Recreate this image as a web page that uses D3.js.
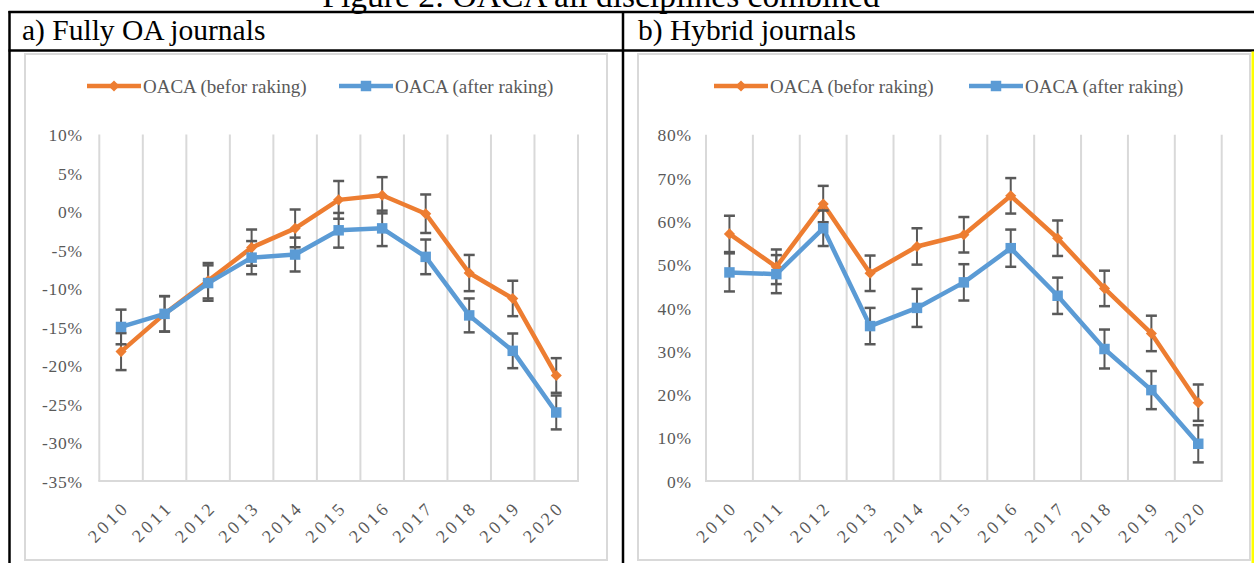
<!DOCTYPE html>
<html><head><meta charset="utf-8">
<script src="https://cdn.jsdelivr.net/npm/d3@7"></script>
<style>
html,body{margin:0;padding:0;background:#fff;}
svg{display:block;}
</style></head>
<body>
<svg id="c" width="1254" height="563"></svg>
<script>
const years = ['2010','2011','2012','2013','2014','2015','2016','2017','2018','2019','2020'];
const seriesNames = ['OACA (befor raking)', 'OACA (after raking)'];
const figureTitle = 'Figure 2: OACA all disciplines combined';
const panelTitles = ['a) Fully OA journals', 'b) Hybrid journals'];

// a) Fully OA journals (percent)
const fullyBefore    = [-18.2, -13.3, -9.0, -4.7, -2.2, 1.5, 2.1, -0.3, -8.0, -11.3, -21.3];
const fullyBeforeErr = [2.4, 2.3, 2.3, 2.35, 2.45, 2.45, 2.35, 2.5, 2.35, 2.3, 2.25];
const fullyAfter     = [-15.0, -13.3, -9.3, -6.0, -5.6, -2.45, -2.2, -5.9, -13.5, -18.1, -26.1];
const fullyAfterErr  = [2.25, 2.3, 2.3, 2.15, 2.2, 2.25, 2.3, 2.25, 2.2, 2.25, 2.2];
const fullyTicks     = [10, 5, 0, -5, -10, -15, -20, -25, -30, -35];

// b) Hybrid journals (percent)
const hybridBefore    = [57.1, 49.5, 64.0, 48.0, 54.2, 56.9, 65.9, 56.1, 44.5, 34.1, 18.1];
const hybridBeforeErr = [4.2, 4.0, 4.2, 4.1, 4.2, 4.1, 4.1, 4.1, 4.1, 4.1, 4.2];
const hybridAfter     = [48.2, 47.8, 58.4, 35.8, 40.0, 45.9, 53.8, 42.8, 30.5, 21.0, 8.6];
const hybridAfterErr  = [4.4, 4.4, 4.1, 4.2, 4.4, 4.2, 4.3, 4.2, 4.5, 4.4, 4.3];
const hybridTicks     = [80, 70, 60, 50, 40, 30, 20, 10, 0];

const ORANGE = '#ED7D31', BLUE = '#5B9BD5', GRID = '#d9d9d9', TXT = '#595959', ERR = '#595959';
const SERIF = '"Liberation Serif", "Times New Roman", serif';

const svg = d3.select('#c');

// Figure title (cut at top, as in the source page)
svg.append('text').attr('x', 601).attr('y', 7).attr('text-anchor', 'middle')
  .attr('font-family', SERIF).attr('font-size', 33.5).attr('fill', '#000').text(figureTitle);

const panels = [
  { title: panelTitles[0], titleX: 22, frame: [25, 54, 607, 560], plot: [99.3, 578, 134.4, 481],
    ticks: fullyTicks, labelX: 83, before: fullyBefore, beforeErr: fullyBeforeErr, after: fullyAfter, afterErr: fullyAfterErr,
    leg: [87, 339] },
  { title: panelTitles[1], titleX: 638, frame: [638, 54, 1250, 560], plot: [706, 1221.7, 134.8, 481],
    ticks: hybridTicks, labelX: 692, before: hybridBefore, beforeErr: hybridBeforeErr, after: hybridAfter, afterErr: hybridAfterErr,
    leg: [714, 969] }
];

function marker(g, type, x, y, color) {
  if (type === 'diamond') {
    g.append('path').attr('d', d3.symbol(d3.symbolSquare, 62)())
      .attr('transform', `translate(${x},${y}) rotate(45)`).attr('fill', color);
  } else {
    g.append('path').attr('d', d3.symbol(d3.symbolSquare, 110)())
      .attr('transform', `translate(${x},${y})`).attr('fill', color);
  }
}

panels.forEach(p => {
  const g = svg.append('g');
  // panel header
  g.append('text').attr('x', p.titleX).attr('y', 40).attr('font-family', SERIF)
    .attr('font-size', 29.5).attr('fill', '#000').text(p.title);
  // chart frame
  g.append('rect').attr('x', p.frame[0]).attr('y', p.frame[1])
    .attr('width', p.frame[2] - p.frame[0]).attr('height', p.frame[3] - p.frame[1])
    .attr('fill', '#fff').attr('stroke', GRID).attr('stroke-width', 2);

  const [x0, x1, yT, yB] = p.plot;
  const x = d3.scaleBand().domain(years).range([x0, x1]).padding(0);
  const y = d3.scaleLinear().domain([p.ticks[p.ticks.length - 1], p.ticks[0]]).range([yB, yT]);
  const cx = d => x(d) + x.bandwidth() / 2;

  // vertical gridlines at category boundaries
  const bounds = years.map(d => x(d)).concat([x1]);
  g.selectAll('line.grid').data(bounds).enter().append('line')
    .attr('x1', d => d).attr('x2', d => d).attr('y1', yT).attr('y2', yB)
    .attr('stroke', GRID).attr('stroke-width', 2);
  g.append('line').attr('x1', x0 - 1).attr('x2', x1 + 1).attr('y1', yB).attr('y2', yB)
    .attr('stroke', GRID).attr('stroke-width', 2);

  // y axis labels
  const yAxis = d3.axisLeft(y).tickValues(p.ticks).tickSize(0).tickPadding(0)
    .tickFormat(v => v + '%');
  const ya = g.append('g').attr('transform', `translate(${p.labelX},0)`).call(yAxis);
  ya.select('.domain').remove();
  ya.selectAll('text').attr('font-family', SERIF).attr('font-size', 17.5).attr('fill', TXT)
    .attr('letter-spacing', '0.8px').attr('dy', '0.35em');

  // x axis labels
  const xAxis = d3.axisBottom(x).tickSize(0).tickPadding(0);
  const xa = g.append('g').attr('transform', `translate(0,${yB})`).call(xAxis);
  xa.select('.domain').remove();
  xa.selectAll('text').attr('font-family', SERIF).attr('font-size', 18).attr('fill', TXT)
    .attr('letter-spacing', '3.5px').attr('text-anchor', 'end')
    .attr('y', 0).attr('dy', '0.35em')
    .attr('transform', 'translate(5,23) rotate(-45)');

  // series
  const series = [
    { vals: p.before, err: p.beforeErr, color: ORANGE, m: 'diamond' },
    { vals: p.after, err: p.afterErr, color: BLUE, m: 'square' }
  ];
  series.forEach(s => {
    const pts = years.map((d, i) => [cx(d), y(s.vals[i]), i]);
    g.append('path').datum(pts)
      .attr('d', d3.line().x(d => d[0]).y(d => d[1]))
      .attr('fill', 'none').attr('stroke', s.color).attr('stroke-width', 4.5)
      .attr('stroke-linejoin', 'round').attr('stroke-linecap', 'round');
  });
  series.forEach(s => {
    years.forEach((d, i) => {
      const xc = cx(d), yt = y(s.vals[i] + s.err[i]), yb = y(s.vals[i] - s.err[i]);
      g.append('line').attr('x1', xc).attr('x2', xc).attr('y1', yt).attr('y2', yb)
        .attr('stroke', ERR).attr('stroke-width', 2);
      [yt, yb].forEach(yy => g.append('line').attr('x1', xc - 5.5).attr('x2', xc + 5.5)
        .attr('y1', yy).attr('y2', yy).attr('stroke', ERR).attr('stroke-width', 2.5));
    });
  });
  series.forEach(s => {
    years.forEach((d, i) => marker(g, s.m, cx(d), y(s.vals[i]), s.color));
  });

  // legend
  const ly = 86;
  [0, 1].forEach(k => {
    const lx = p.leg[k];
    const col = k === 0 ? ORANGE : BLUE;
    g.append('line').attr('x1', lx).attr('x2', lx + 54).attr('y1', ly).attr('y2', ly)
      .attr('stroke', col).attr('stroke-width', 4.5);
    marker(g, k === 0 ? 'diamond' : 'square', lx + 27, ly, col);
    g.append('text').attr('x', lx + 56).attr('y', ly).attr('dy', '0.35em')
      .attr('font-family', SERIF).attr('font-size', 19).attr('fill', TXT).text(seriesNames[k]);
  });
});

// table borders
const border = svg.append('g').attr('stroke', '#000').attr('stroke-width', 2.5);
border.append('line').attr('x1', 8.5).attr('x2', 1254).attr('y1', 12).attr('y2', 12);
border.append('line').attr('x1', 8.5).attr('x2', 1254).attr('y1', 50.5).attr('y2', 50.5);
border.append('line').attr('x1', 9.5).attr('x2', 9.5).attr('y1', 11).attr('y2', 563);
border.append('line').attr('x1', 623).attr('x2', 623).attr('y1', 11).attr('y2', 563);
// yellow edge at right
svg.append('rect').attr('x', 1251.5).attr('y', 51.5).attr('width', 2.5).attr('height', 512).attr('fill', '#ffff00');
</script>
</body></html>
